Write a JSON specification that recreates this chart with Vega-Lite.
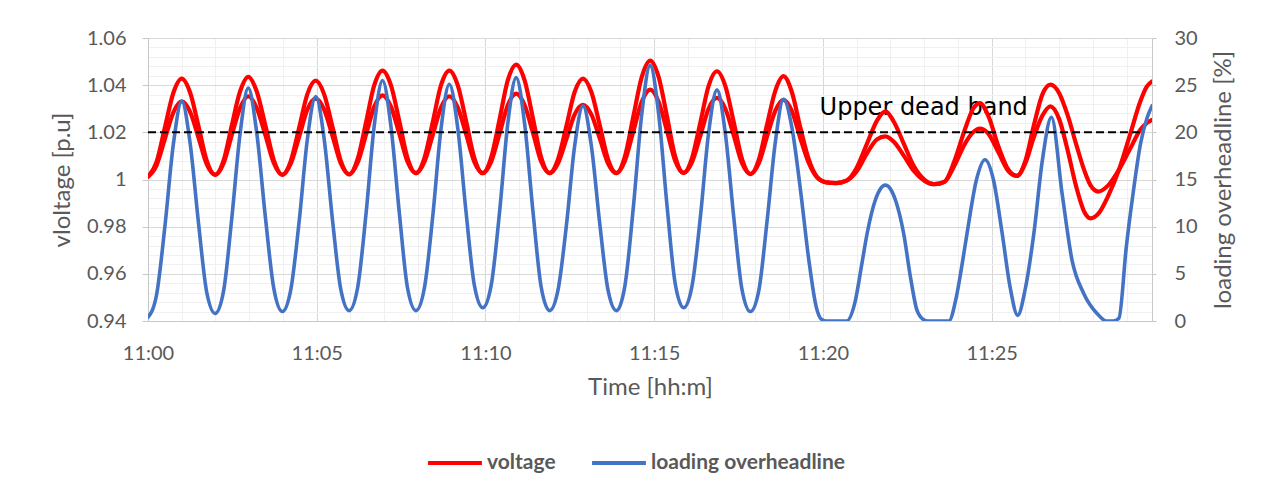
{
  "$schema": "https://vega.github.io/schema/vega-lite/v6.json",
  "width": 1004,
  "height": 283,
  "autosize": {"type": "none"},
  "padding": {"left": 148, "top": 38, "right": 119, "bottom": 174},
  "background": "white",
  "config": {"view": {"stroke": null}},
  "datasets": {
    "volt": [
      {"m": 0, "a": 1.0012, "b": 1.0012}, {"m": 0.25, "a": 1.0073, "b": 1.0059}, {"m": 0.5, "a": 1.022, "b": 1.0172}, {"m": 0.75, "a": 1.0367, "b": 1.0284},
      {"m": 1.0, "a": 1.0428, "b": 1.0331}, {"m": 1.25, "a": 1.0368, "b": 1.0286}, {"m": 1.5, "a": 1.0224, "b": 1.0176}, {"m": 1.74, "a": 1.008, "b": 1.0065},
      {"m": 1.99, "a": 1.002, "b": 1.002}, {"m": 2.24, "a": 1.0081, "b": 1.0069}, {"m": 2.48, "a": 1.0228, "b": 1.0187}, {"m": 2.73, "a": 1.0374, "b": 1.0304},
      {"m": 2.97, "a": 1.0435, "b": 1.0353}, {"m": 3.22, "a": 1.0374, "b": 1.0304}, {"m": 3.48, "a": 1.0228, "b": 1.0187}, {"m": 3.73, "a": 1.0081, "b": 1.0069},
      {"m": 3.98, "a": 1.002, "b": 1.002}, {"m": 4.23, "a": 1.0078, "b": 1.0067}, {"m": 4.48, "a": 1.022, "b": 1.0182}, {"m": 4.72, "a": 1.0361, "b": 1.0296},
      {"m": 4.97, "a": 1.0419, "b": 1.0343}, {"m": 5.22, "a": 1.0361, "b": 1.0296}, {"m": 5.47, "a": 1.0221, "b": 1.0183}, {"m": 5.71, "a": 1.008, "b": 1.0069},
      {"m": 5.96, "a": 1.0022, "b": 1.0022}, {"m": 6.21, "a": 1.0086, "b": 1.0071}, {"m": 6.46, "a": 1.0242, "b": 1.019}, {"m": 6.7, "a": 1.0398, "b": 1.0308},
      {"m": 6.95, "a": 1.0462, "b": 1.0357}, {"m": 7.2, "a": 1.0399, "b": 1.0309}, {"m": 7.45, "a": 1.0245, "b": 1.0192}, {"m": 7.69, "a": 1.0091, "b": 1.0075},
      {"m": 7.94, "a": 1.0027, "b": 1.0027}, {"m": 8.19, "a": 1.0091, "b": 1.0075}, {"m": 8.44, "a": 1.0245, "b": 1.019}, {"m": 8.68, "a": 1.0399, "b": 1.0305},
      {"m": 8.93, "a": 1.0462, "b": 1.0353}, {"m": 9.18, "a": 1.0399, "b": 1.0305}, {"m": 9.43, "a": 1.0245, "b": 1.019}, {"m": 9.67, "a": 1.0091, "b": 1.0075},
      {"m": 9.92, "a": 1.0027, "b": 1.0027}, {"m": 10.17, "a": 1.0094, "b": 1.0076}, {"m": 10.42, "a": 1.0257, "b": 1.0196}, {"m": 10.66, "a": 1.042, "b": 1.0315},
      {"m": 10.91, "a": 1.0487, "b": 1.0364}, {"m": 11.16, "a": 1.042, "b": 1.0315}, {"m": 11.41, "a": 1.0257, "b": 1.0196}, {"m": 11.65, "a": 1.0094, "b": 1.0076},
      {"m": 11.9, "a": 1.0027, "b": 1.0027}, {"m": 12.15, "a": 1.0086, "b": 1.0069}, {"m": 12.4, "a": 1.0228, "b": 1.0172}, {"m": 12.64, "a": 1.037, "b": 1.0275},
      {"m": 12.89, "a": 1.0428, "b": 1.0317}, {"m": 13.14, "a": 1.037, "b": 1.0275}, {"m": 13.39, "a": 1.0228, "b": 1.0172}, {"m": 13.63, "a": 1.0086, "b": 1.0069},
      {"m": 13.88, "a": 1.0027, "b": 1.0027}, {"m": 14.13, "a": 1.0097, "b": 1.0079}, {"m": 14.38, "a": 1.0266, "b": 1.0204}, {"m": 14.63, "a": 1.0434, "b": 1.0329},
      {"m": 14.88, "a": 1.0504, "b": 1.0381}, {"m": 15.13, "a": 1.0435, "b": 1.033}, {"m": 15.38, "a": 1.0266, "b": 1.0205}, {"m": 15.62, "a": 1.0098, "b": 1.008},
      {"m": 15.87, "a": 1.0028, "b": 1.0028}, {"m": 16.12, "a": 1.0091, "b": 1.0074}, {"m": 16.37, "a": 1.0244, "b": 1.0187}, {"m": 16.61, "a": 1.0396, "b": 1.03},
      {"m": 16.86, "a": 1.0459, "b": 1.0346}, {"m": 17.11, "a": 1.0395, "b": 1.0299}, {"m": 17.36, "a": 1.0241, "b": 1.0185}, {"m": 17.6, "a": 1.0087, "b": 1.007},
      {"m": 17.85, "a": 1.0023, "b": 1.0023}, {"m": 18.1, "a": 1.0084, "b": 1.0069}, {"m": 18.34, "a": 1.0231, "b": 1.0181}, {"m": 18.59, "a": 1.0377, "b": 1.0292},
      {"m": 18.83, "a": 1.0438, "b": 1.0338}, {"m": 19.08, "a": 1.037, "b": 1.029}, {"m": 19.33, "a": 1.022, "b": 1.0175}, {"m": 19.58, "a": 1.0085, "b": 1.007},
      {"m": 19.83, "a": 1.001, "b": 1.0008}, {"m": 20.1, "a": 0.9988, "b": 0.9988}, {"m": 20.4, "a": 0.9985, "b": 0.9985}, {"m": 20.7, "a": 0.9995, "b": 0.9995},
      {"m": 21.0, "a": 1.005, "b": 1.0035}, {"m": 21.3, "a": 1.015, "b": 1.011}, {"m": 21.6, "a": 1.025, "b": 1.017}, {"m": 21.85, "a": 1.0289, "b": 1.0183},
      {"m": 22.1, "a": 1.0245, "b": 1.016}, {"m": 22.4, "a": 1.015, "b": 1.01}, {"m": 22.7, "a": 1.0055, "b": 1.0035}, {"m": 23.0, "a": 1.0, "b": 0.9995},
      {"m": 23.3, "a": 0.998, "b": 0.998}, {"m": 23.6, "a": 0.999, "b": 0.999}, {"m": 23.9, "a": 1.008, "b": 1.006}, {"m": 24.2, "a": 1.021, "b": 1.015},
      {"m": 24.45, "a": 1.03, "b": 1.02}, {"m": 24.65, "a": 1.0324, "b": 1.0216}, {"m": 24.9, "a": 1.027, "b": 1.0195}, {"m": 25.2, "a": 1.014, "b": 1.0115},
      {"m": 25.5, "a": 1.004, "b": 1.0035}, {"m": 25.75, "a": 1.0015, "b": 1.0015}, {"m": 26.0, "a": 1.008, "b": 1.007}, {"m": 26.25, "a": 1.023, "b": 1.018},
      {"m": 26.5, "a": 1.036, "b": 1.027}, {"m": 26.74, "a": 1.0402, "b": 1.031}, {"m": 27.0, "a": 1.0366, "b": 1.0256}, {"m": 27.25, "a": 1.0273, "b": 1.0124},
      {"m": 27.5, "a": 1.0151, "b": 0.9972}, {"m": 27.75, "a": 1.0036, "b": 0.9861}, {"m": 27.93, "a": 0.9975, "b": 0.9835}, {"m": 28.16, "a": 0.9949, "b": 0.9855},
      {"m": 28.45, "a": 0.9975, "b": 0.993}, {"m": 28.77, "a": 1.0041, "b": 1.0041}, {"m": 29.1, "a": 1.013, "b": 1.019}, {"m": 29.4, "a": 1.021, "b": 1.033},
      {"m": 29.6, "a": 1.024, "b": 1.0395}, {"m": 29.75, "a": 1.0253, "b": 1.0416}
    ],
    "load": [
      {"m": 0, "l": 0.4}, {"m": 0.25, "l": 2.7}, {"m": 0.5, "l": 10.0}, {"m": 0.75, "l": 18.7},
      {"m": 1.0, "l": 23.3}, {"m": 1.25, "l": 18.8}, {"m": 1.5, "l": 10.25}, {"m": 1.74, "l": 3.05},
      {"m": 1.99, "l": 0.8}, {"m": 2.24, "l": 3.2}, {"m": 2.48, "l": 10.8}, {"m": 2.73, "l": 19.9},
      {"m": 2.97, "l": 24.7}, {"m": 3.22, "l": 20.0}, {"m": 3.48, "l": 10.95}, {"m": 3.73, "l": 3.4},
      {"m": 3.98, "l": 1.0}, {"m": 4.23, "l": 3.3}, {"m": 4.48, "l": 10.6}, {"m": 4.72, "l": 19.2},
      {"m": 4.97, "l": 23.8}, {"m": 5.22, "l": 19.3}, {"m": 5.47, "l": 10.6}, {"m": 5.71, "l": 3.4},
      {"m": 5.96, "l": 1.1}, {"m": 6.21, "l": 3.5}, {"m": 6.46, "l": 11.35}, {"m": 6.7, "l": 20.6},
      {"m": 6.95, "l": 25.5}, {"m": 7.2, "l": 20.6}, {"m": 7.45, "l": 11.35}, {"m": 7.69, "l": 3.5},
      {"m": 7.94, "l": 1.1}, {"m": 8.19, "l": 3.5}, {"m": 8.44, "l": 11.2}, {"m": 8.68, "l": 20.3},
      {"m": 8.93, "l": 25.1}, {"m": 9.18, "l": 20.4}, {"m": 9.43, "l": 11.35}, {"m": 9.67, "l": 3.8},
      {"m": 9.92, "l": 1.4}, {"m": 10.17, "l": 3.8}, {"m": 10.42, "l": 11.65}, {"m": 10.66, "l": 20.9},
      {"m": 10.91, "l": 25.8}, {"m": 11.16, "l": 20.9}, {"m": 11.41, "l": 11.5}, {"m": 11.65, "l": 3.6},
      {"m": 11.9, "l": 1.1}, {"m": 12.15, "l": 3.3}, {"m": 12.4, "l": 10.2}, {"m": 12.64, "l": 18.5},
      {"m": 12.89, "l": 22.8}, {"m": 13.14, "l": 18.5}, {"m": 13.39, "l": 10.2}, {"m": 13.63, "l": 3.3},
      {"m": 13.88, "l": 1.1}, {"m": 14.13, "l": 3.7}, {"m": 14.38, "l": 12.0}, {"m": 14.63, "l": 21.9},
      {"m": 14.88, "l": 27.1}, {"m": 15.13, "l": 22.0}, {"m": 15.38, "l": 12.2}, {"m": 15.62, "l": 4.0},
      {"m": 15.87, "l": 1.4}, {"m": 16.12, "l": 3.7}, {"m": 16.37, "l": 11.1}, {"m": 16.61, "l": 19.9},
      {"m": 16.86, "l": 24.5}, {"m": 17.11, "l": 19.8}, {"m": 17.36, "l": 10.9}, {"m": 17.6, "l": 3.35},
      {"m": 17.85, "l": 1.0}, {"m": 18.1, "l": 3.25}, {"m": 18.34, "l": 10.45}, {"m": 18.59, "l": 19.0},
      {"m": 18.83, "l": 23.5}, {"m": 19.08, "l": 20.5}, {"m": 19.33, "l": 14.0}, {"m": 19.58, "l": 6.5},
      {"m": 19.8, "l": 1.5}, {"m": 19.95, "l": 0.2}, {"m": 20.1, "l": 0}, {"m": 20.5, "l": 0},
      {"m": 20.7, "l": 0}, {"m": 20.95, "l": 2.0}, {"m": 21.15, "l": 6.0}, {"m": 21.31, "l": 9.3},
      {"m": 21.55, "l": 12.8}, {"m": 21.85, "l": 14.4}, {"m": 22.15, "l": 12.8}, {"m": 22.39, "l": 9.3},
      {"m": 22.6, "l": 4.5}, {"m": 22.79, "l": 1.1}, {"m": 23.0, "l": 0.1}, {"m": 23.1, "l": 0},
      {"m": 23.73, "l": 0}, {"m": 23.95, "l": 2.5}, {"m": 24.1, "l": 5.5}, {"m": 24.27, "l": 9.3},
      {"m": 24.55, "l": 15.0}, {"m": 24.8, "l": 17.1}, {"m": 25.05, "l": 15.0}, {"m": 25.31, "l": 9.3},
      {"m": 25.55, "l": 3.5}, {"m": 25.77, "l": 0.6}, {"m": 26.0, "l": 3.5}, {"m": 26.25, "l": 9.3},
      {"m": 26.5, "l": 17.0}, {"m": 26.77, "l": 21.6}, {"m": 27.09, "l": 13.4}, {"m": 27.38, "l": 6.45},
      {"m": 27.73, "l": 2.9}, {"m": 28.12, "l": 0.8}, {"m": 28.4, "l": 0}, {"m": 28.6, "l": 0},
      {"m": 28.77, "l": 0.3}, {"m": 28.99, "l": 7.9}, {"m": 29.2, "l": 13.8}, {"m": 29.41, "l": 18.8},
      {"m": 29.6, "l": 21.5}, {"m": 29.75, "l": 22.8}
    ],
    "band": [{"m": 0, "v": 1.02}, {"m": 29.5, "v": 1.02}],
    "note": [{"m": 19.9, "v": 1.0275, "label": "Upper dead band"}]
  },
  "encoding": {
    "x": {
      "field": "m",
      "type": "quantitative",
      "scale": {"domain": [0, 29.75], "nice": false, "zero": false},
      "axis": {
        "values": [0,1,2,3,4,5,6,7,8,9,10,11,12,13,14,15,16,17,18,19,20,21,22,23,24,25,26,27,28,29],
        "labelExpr": "datum.value % 5 === 0 ? (datum.value < 10 ? '11:0' + datum.value : '11:' + datum.value) : ''",
        "labelOverlap": false,
        "labelFlush": false,
        "grid": true,
        "gridColor": {"condition": {"test": "datum.value % 5 === 0", "value": "#d9d9d9"}, "value": "#f0f0f0"},
        "gridWidth": 1,
        "ticks": false,
        "tickSize": 0,
        "domainColor": "#c8c8c8",
        "domainWidth": 1,
        "labelFont": "Lato",
        "labelFontSize": 20,
        "labelColor": "#595959",
        "labelPadding": 22,
        "title": "Time [hh:m]",
        "titleFont": "Lato",
        "titleFontSize": 24,
        "titleFontWeight": "normal",
        "titleColor": "#595959",
        "titlePadding": 12
      }
    }
  },
  "layer": [
    {
      "data": {"name": "note"},
      "mark": {"type": "text", "font": "DejaVu Sans", "fontSize": 24, "align": "left", "baseline": "alphabetic", "color": "#000000"},
      "encoding": {
        "y": {"field": "v", "type": "quantitative", "scale": {"domain": [0.94, 1.06], "nice": false, "zero": false}, "axis": null},
        "text": {"field": "label"}
      }
    },
    {
      "data": {"name": "volt"},
      "transform": [{"fold": ["a", "b"], "as": ["series", "v"]}],
      "mark": {"type": "line", "interpolate": "monotone", "strokeWidth": 4.2, "strokeCap": "round", "strokeJoin": "round", "clip": true},
      "encoding": {
        "y": {
          "field": "v",
          "type": "quantitative",
          "scale": {"domain": [0.94, 1.06], "nice": false, "zero": false},
          "axis": {
            "orient": "left",
            "values": [0.94,0.944,0.948,0.952,0.956,0.96,0.964,0.968,0.972,0.976,0.98,0.984,0.988,0.992,0.996,1.0,1.004,1.008,1.012,1.016,1.02,1.024,1.028,1.032,1.036,1.04,1.044,1.048,1.052,1.056,1.06],
            "labelExpr": "abs(datum.value*50 - round(datum.value*50)) < 0.01 ? format(datum.value, '~g') : ''",
            "labelOverlap": false,
            "labelFlush": false,
            "grid": true,
            "gridColor": {"condition": {"test": "abs(datum.value*50 - round(datum.value*50)) < 0.01", "value": "#d9d9d9"}, "value": "#f0f0f0"},
            "tickColor": {"condition": {"test": "abs(datum.value*50 - round(datum.value*50)) < 0.01", "value": "#c8c8c8"}, "value": "transparent"},
            "tickSize": 6,
            "domainColor": "#c8c8c8",
            "labelFont": "Lato",
            "labelFontSize": 20,
            "labelColor": "#595959",
            "labelPadding": 16,
            "title": "vloltage [p.u]",
            "titleFont": "Lato",
            "titleFontSize": 24,
            "titleFontWeight": "normal",
            "titleColor": "#595959",
            "titlePadding": 12
          }
        },
        "color": {
          "datum": "voltage",
          "scale": {"domain": ["voltage", "loading overheadline"], "range": ["#FF0000", "#4472C4"]},
          "legend": {
            "orient": "none",
            "direction": "horizontal",
            "legendX": 278,
            "legendY": 396,
            "title": null,
            "symbolType": "stroke",
            "symbolSize": 2900,
            "symbolStrokeWidth": 4,
            "labelFont": "Lato",
            "labelFontSize": 21,
            "labelFontWeight": "bold",
            "labelColor": "#595959",
            "labelLimit": 400,
            "labelOffset": 3,
            "columnPadding": 28
          }
        },
        "detail": {"field": "series"}
      }
    },
    {
      "data": {"name": "load"},
      "mark": {"type": "line", "interpolate": "monotone", "strokeWidth": 3.6, "strokeCap": "round", "strokeJoin": "round", "clip": true},
      "encoding": {
        "y": {
          "field": "l",
          "type": "quantitative",
          "scale": {"domain": [0, 30], "nice": false, "zero": false},
          "axis": {
            "orient": "right",
            "values": [0, 5, 10, 15, 20, 25, 30],
            "grid": false,
            "tickSize": 4,
            "tickColor": "#c8c8c8",
            "domainColor": "#c8c8c8",
            "labelFont": "Lato",
            "labelFontSize": 20,
            "labelColor": "#595959",
            "labelPadding": 18,
            "labelFlush": false,
            "title": "loading overheadline [%]",
            "titleAngle": 270,
            "titleBaseline": "top",
            "titleFont": "Lato",
            "titleFontSize": 24,
            "titleFontWeight": "normal",
            "titleColor": "#595959",
            "titlePadding": 14
          }
        },
        "color": {"datum": "loading overheadline"}
      }
    },
    {
      "data": {"name": "band"},
      "mark": {"type": "line", "strokeDash": [8, 4], "strokeWidth": 2, "color": "#000000"},
      "encoding": {
        "y": {"field": "v", "type": "quantitative", "scale": {"domain": [0.94, 1.06], "nice": false, "zero": false}, "axis": null}
      }
    }
  ],
  "resolve": {"scale": {"y": "independent"}}
}
